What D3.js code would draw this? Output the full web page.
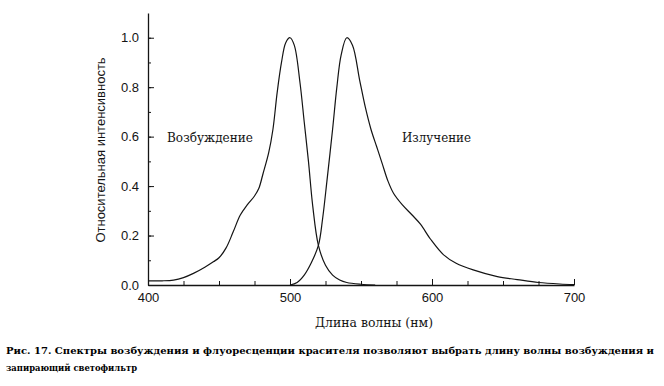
<!DOCTYPE html>
<html>
<head>
<meta charset="utf-8">
<script src="https://cdn.jsdelivr.net/npm/d3@7"></script>
<style>
  body { margin: 0; background: #fff; }
  svg { display: block; }
  .serif { font-family: "DejaVu Serif", "Liberation Serif", serif; }
</style>
</head>
<body>
<div id="chart"></div>
<script>
// excitation spectrum (nm, relative intensity)
const excWave = [400, 410, 418, 425, 432, 440, 446, 450, 455, 460, 465, 470, 475, 478, 481, 485, 488, 491, 494, 497, 500, 503, 507, 510, 513, 516, 520, 525, 530, 535, 540, 550, 560];
const excVal  = [0.017, 0.017, 0.02, 0.03, 0.047, 0.072, 0.094, 0.11, 0.15, 0.215, 0.283, 0.325, 0.36, 0.39, 0.45, 0.535, 0.63, 0.78, 0.9, 0.98, 1.0, 0.97, 0.82, 0.66, 0.50, 0.32, 0.16, 0.08, 0.04, 0.02, 0.01, 0.003, 0];

// emission spectrum
const emWave = [500, 505, 510, 515, 520, 523, 526, 530, 533, 536, 540, 544, 549, 553, 557, 561, 565, 569, 573, 579, 586, 592, 599, 608, 617, 629, 646, 660, 675, 690, 700];
const emVal  = [0, 0.01, 0.04, 0.09, 0.16, 0.27, 0.42, 0.63, 0.80, 0.93, 1.0, 0.97, 0.83, 0.72, 0.63, 0.56, 0.49, 0.42, 0.37, 0.325, 0.283, 0.245, 0.185, 0.123, 0.088, 0.061, 0.034, 0.022, 0.01, 0.004, 0.002];

const xTicks = [400, 500, 600, 700];
const yTicks = [0, 0.2, 0.4, 0.6, 0.8, 1.0];

const caption1 = "Рис. 17. Спектры возбуждения и флуоресценции красителя позволяют выбрать длину волны возбуждения и";
const caption2 = "запирающий светофильтр";

const svg = d3.select("#chart").append("svg")
    .attr("width", 664).attr("height", 386);

svg.append("rect").attr("width", 664).attr("height", 386).attr("fill", "#fff");

const x = d3.scaleLinear().domain([400, 700]).range([148, 574]);
const y = d3.scaleLinear().domain([0, 1.1]).range([285, 13]);

const ink = "#141414";
const sans = "'Liberation Sans', Arial, sans-serif";

// x axis - ticks point up into the plot
const xMinor = svg.append("g").attr("transform", "translate(0,285)")
    .call(d3.axisBottom(x).tickValues(d3.range(400, 701, 25)).tickSize(-4).tickFormat(""));
xMinor.select(".domain").remove();
xMinor.selectAll("line").attr("stroke", ink);

const xAxis = svg.append("g").attr("transform", "translate(0,285)")
    .call(d3.axisBottom(x).tickValues(xTicks).tickSizeInner(-6).tickSizeOuter(0).tickPadding(8));
xAxis.select(".domain").attr("stroke", ink).attr("stroke-width", 1.3);
xAxis.selectAll("line").attr("stroke", ink);
xAxis.selectAll("text").attr("font-family", sans).attr("font-size", 13).attr("fill", ink);

// y axis
const yMinor = svg.append("g").attr("transform", "translate(148,0)")
    .call(d3.axisLeft(y).tickValues(d3.range(0, 1.01, 0.1)).tickSize(-3).tickFormat(""));
yMinor.select(".domain").remove();
yMinor.selectAll("line").attr("stroke", ink);

const yAxis = svg.append("g").attr("transform", "translate(148,0)")
    .call(d3.axisLeft(y).tickValues(yTicks).tickSizeInner(-6).tickSizeOuter(0).tickPadding(9).tickFormat(d3.format(".1f")));
yAxis.select(".domain").attr("stroke", ink).attr("stroke-width", 1.3);
yAxis.selectAll("line").attr("stroke", ink);
yAxis.selectAll("text").attr("font-family", sans).attr("font-size", 13).attr("fill", ink);

// curves
const line = d3.line()
    .x(d => x(d[0]))
    .y(d => y(d[1]))
    .curve(d3.curveCatmullRom.alpha(0.5));

svg.append("path")
    .attr("d", line(d3.zip(excWave, excVal)))
    .attr("fill", "none").attr("stroke", ink).attr("stroke-width", 1.2);

svg.append("path")
    .attr("d", line(d3.zip(emWave, emVal)))
    .attr("fill", "none").attr("stroke", ink).attr("stroke-width", 1.2);

// labels (serif, squeezed to the widths in the scan)
svg.append("text").attr("class", "serif").attr("x", 167).attr("y", 142)
    .attr("font-size", 13).attr("fill", ink)
    .attr("textLength", 86).attr("lengthAdjust", "spacingAndGlyphs")
    .text("Возбуждение");

svg.append("text").attr("class", "serif").attr("x", 402).attr("y", 142)
    .attr("font-size", 13).attr("fill", ink)
    .attr("textLength", 69).attr("lengthAdjust", "spacingAndGlyphs")
    .text("Излучение");

svg.append("text").attr("class", "serif").attr("x", 315).attr("y", 327)
    .attr("font-size", 13).attr("fill", ink)
    .attr("textLength", 118).attr("lengthAdjust", "spacingAndGlyphs")
    .text("Длина волны (нм)");

svg.append("text")
    .attr("transform", "translate(105,150) rotate(-90)")
    .attr("text-anchor", "middle")
    .attr("font-family", sans).attr("font-size", 13).attr("fill", ink)
    .text("Относительная интенсивность");

// caption
svg.append("text").attr("class", "serif").attr("x", 6).attr("y", 354)
    .attr("font-size", 10).attr("font-weight", "bold").attr("fill", "#000")
    .attr("textLength", 648).attr("lengthAdjust", "spacingAndGlyphs")
    .text(caption1);

svg.append("text").attr("class", "serif").attr("x", 6).attr("y", 371)
    .attr("font-size", 10).attr("font-weight", "bold").attr("fill", "#000")
    .attr("textLength", 131).attr("lengthAdjust", "spacingAndGlyphs")
    .text(caption2);
</script>
</body>
</html>
